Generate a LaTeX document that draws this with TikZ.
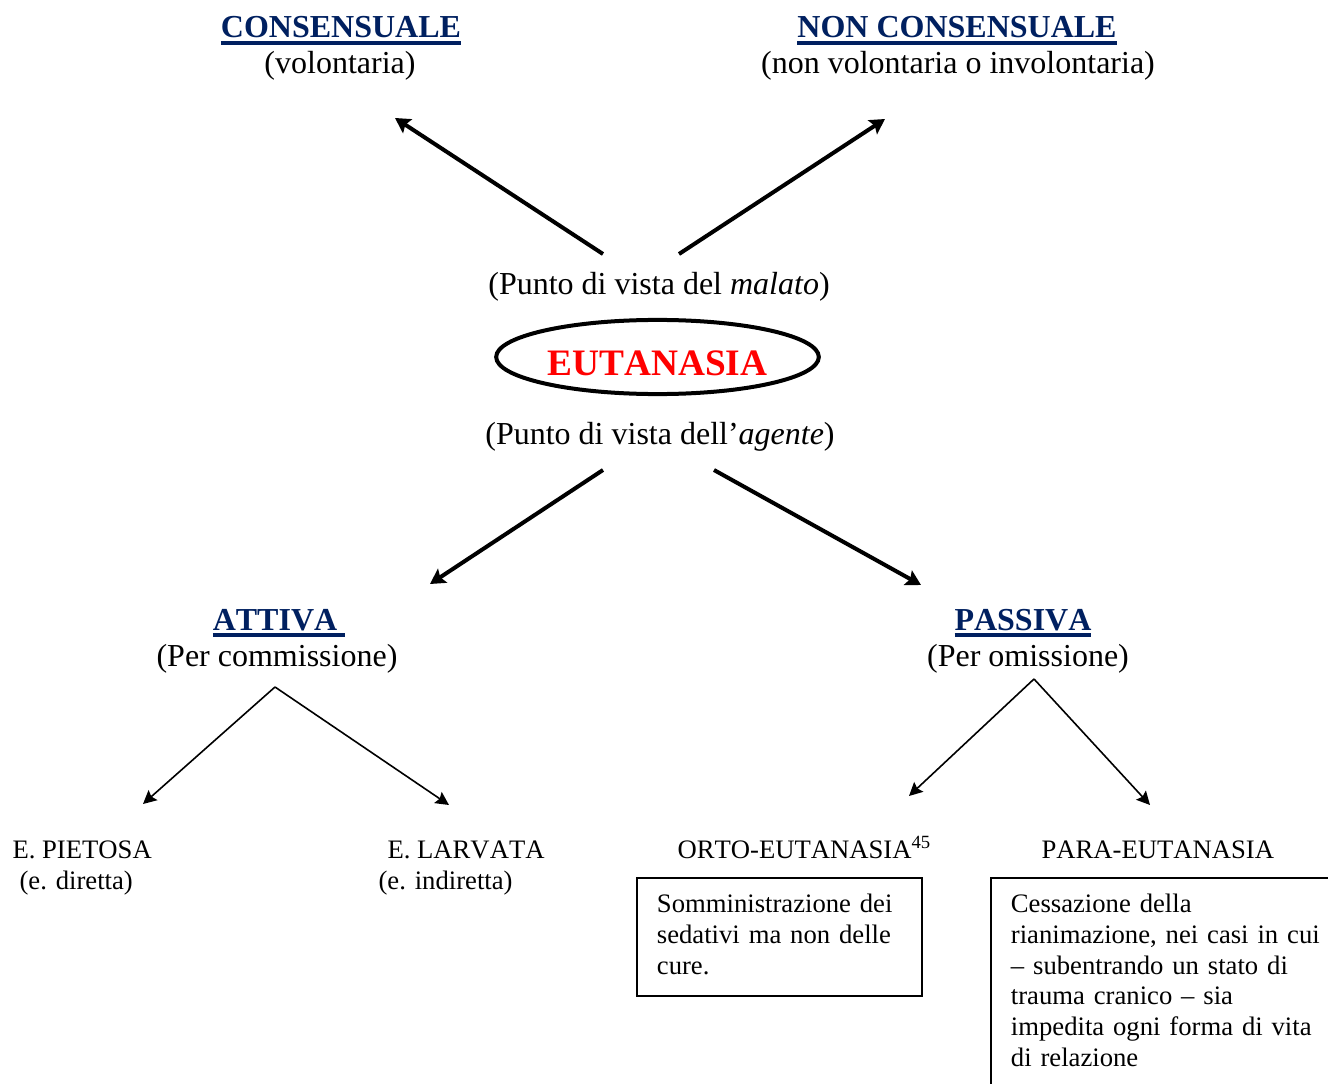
\documentclass[tikz,border=0pt]{standalone}
\usepackage{fontspec}
\setmainfont[Kerning=Off]{Liberation Serif}
\newfontfamily\notefont[Kerning=Off, WordSpace=0.8]{Liberation Serif}
\usepackage{tikz}
\usetikzlibrary{positioning, shapes.geometric, arrows.meta}
\definecolor{navy}{RGB}{0,32,96}
\newcommand{\thickul}[1]{\setbox0\hbox{#1}\rlap{\rule[-2.5pt]{\wd0}{1.2pt}}\box0}
\tikzset{heading/.style = {font=\fontsize{12}{14}\selectfont\bfseries, text=navy, inner sep=0pt, anchor=base}}
\tikzset{remark/.style = {font=\fontsize{12}{14}\selectfont, inner sep=0pt, anchor=base}}
\tikzset{kind/.style = {font=\fontsize{10}{11.55}\selectfont, inner sep=0pt, anchor=base west}}
\tikzset{note/.style = {draw, line width=0.7pt, font=\notefont\fontsize{10}{11.55}\selectfont, align=left, inner xsep=7.5pt, inner ysep=6pt, anchor=north west}}
\tikzset{bigarrow/.style = {-{Stealth[length=5.6pt, width=6.2pt, inset=1pt]}, line width=1.5pt}}
\tikzset{branch/.style = {-{Stealth[length=5pt, width=5pt, inset=0.8pt]}, line width=0.6pt}}

\begin{document}
\begin{tikzpicture}[x=0.375pt, y=-0.375pt]
  \path[use as bounding box, clip] (0,0) rectangle (1328,1084);

  % punto di vista del malato
  \node [heading] (cons) at (341,38) {\thickul{CONSENSUALE}};
  \node [remark] (conssub) at (340,74) {(volontaria)};
  \node [heading] (noncons) at (957,38) {\thickul{NON CONSENSUALE}};
  \node [remark] (nonconssub) at (958,74) {(non volontaria o involontaria)};
  \node [remark] (malato) at (659,294) {(Punto di vista del \textit{malato})};

  \node [draw, ellipse, line width=1.5pt, minimum width=121pt, minimum height=27.8pt, inner sep=0pt,
         text height=14pt, text depth=0.5pt, text=red, font=\fontsize{14}{16}\selectfont\bfseries] (eut) at (657.5,357) {EUTANASIA};

  % punto di vista dell'agente
  \node [remark] (agente) at (660,444) {(Punto di vista dell’\textit{agente})};
  \node [heading] (attiva) at (279,630) {\thickul{ATTIVA~}};
  \node [remark] (attivasub) at (277,666) {(Per commissione)};
  \node [heading] (passiva) at (1023,630) {\thickul{PASSIVA}};
  \node [remark] (passivasub) at (1028,666) {(Per omissione)};

  \node [kind] (pietosa) at (12,858) {E. PIETOSA};
  \node [kind] (pietosasub) at (19,889) {(e. diretta)};
  \node [kind] (larvata) at (387,858) {E. LARVATA};
  \node [kind] (larvatasub) at (378,889) {(e. indiretta)};
  \node [kind] (orto) at (677,858) {ORTO-EUTANASIA\textsuperscript{45}};
  \node [kind] (para) at (1041,858) {PARA-EUTANASIA};

  \node [note, text width=91.9pt] (ortobox) at (636,877) {Somministrazione dei\\sedativi ma non delle\\cure.\vphantom{p}};
  \node [note, text width=123.75pt] (parabox) at (990,877) {Cessazione della\\rianimazione, nei casi in cui\\– subentrando un stato di\\trauma cranico – sia\\impedita ogni forma di vita\\di relazione\rule[-10pt]{0pt}{10pt}};

  \coordinate (m1) at (603,254);  \coordinate (cons-tip) at (395,118);
  \coordinate (m2) at (679,254);  \coordinate (noncons-tip) at (885,119);
  \coordinate (g1) at (603,470);  \coordinate (attiva-tip) at (430,584);
  \coordinate (g2) at (714,470);  \coordinate (passiva-tip) at (921,585);
  \coordinate (a0) at (275,687);  \coordinate (pietosa-tip) at (143,804);  \coordinate (larvata-tip) at (449,805);
  \coordinate (p0) at (1034,679); \coordinate (orto-tip) at (909,796);     \coordinate (para-tip) at (1150,805);

  \draw [bigarrow] (m1) -- (cons-tip);
  \draw [bigarrow] (m2) -- (noncons-tip);
  \draw [bigarrow] (g1) -- (attiva-tip);
  \draw [bigarrow] (g2) -- (passiva-tip);

  \draw [branch] (a0) -- (pietosa-tip);
  \draw [branch] (a0) -- (larvata-tip);
  \draw [branch] (p0) -- (orto-tip);
  \draw [branch] (p0) -- (para-tip);
\end{tikzpicture}
\end{document}
